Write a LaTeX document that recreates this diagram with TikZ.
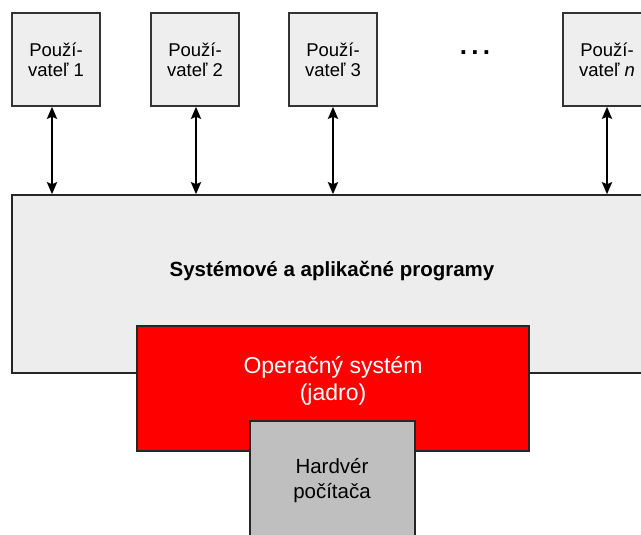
\documentclass[tikz,border=0pt]{standalone}
\usepackage{fontspec}
\setmainfont{Liberation Sans}
\usetikzlibrary{arrows.meta}

\tikzset{
  userbox/.style={draw=black!80, fill=gray!13, line width=1.5pt,
    minimum width=88pt, minimum height=93pt, inner sep=0pt,
    align=center, font=\fontsize{18.5}{20}\selectfont},
  layerbox/.style={draw=black!85, line width=1.5pt, inner sep=0pt},
  link/.style={{Stealth[length=12pt,width=10pt,inset=2pt]}-{Stealth[length=12pt,width=10pt,inset=2pt]},
    line width=2.5pt},
}

\begin{document}
\begin{tikzpicture}[x=1pt, y=-1pt]
  \useasboundingbox (0,0) rectangle (641,535);
  \clip (0,0) rectangle (641,535);

  % Layers, drawn bottom-up so each one covers the one before
  \node[layerbox, fill=gray!14, minimum width=648pt, minimum height=178pt]
    (sys) at (336,284) {};
  \node[font=\fontsize{20.5}{24}\selectfont\bfseries] (systxt) at (332,271)
    {Systémové a aplikačné programy};

  \node[layerbox, fill=red, minimum width=392pt, minimum height=125pt]
    (os) at (333,388.5) {};
  \node[text=white, align=center, font=\fontsize{23}{27}\selectfont]
    (ostxt) at (333,381) {Operačný systém\\(jadro)};

  \node[layerbox, fill=gray!50, minimum width=165pt, minimum height=130pt]
    (hw) at (332.5,486) {};
  \node[align=center, font=\fontsize{20.5}{25}\selectfont]
    (hwtxt) at (332,481) {Hardvér\\počítača};

  % Users
  \node[userbox] (u1) at (56,59.5)  {Použí-\\vateľ 1};
  \node[userbox] (u2) at (195,59.5) {Použí-\\vateľ 2};
  \node[userbox] (u3) at (333,59.5) {Použí-\\vateľ 3};
  \node[userbox] (un) at (607,59.5) {Použí-\\vateľ \textit{n}};
  \node[font=\fontsize{26}{28}\selectfont\bfseries, anchor=base]
    (dots) at (475,55) {.\,.\,.};

  % Links between users and programs
  \draw[link] ([xshift=-4pt]u1.south) -- ([xshift=-4pt]u1.south |- sys.north);
  \draw[link] ([xshift=1pt]u2.south) -- ([xshift=1pt]u2.south |- sys.north);
  \draw[link] (u3.south) -- (u3.south |- sys.north);
  \draw[link] (un.south) -- (un.south |- sys.north);
\end{tikzpicture}
\end{document}
